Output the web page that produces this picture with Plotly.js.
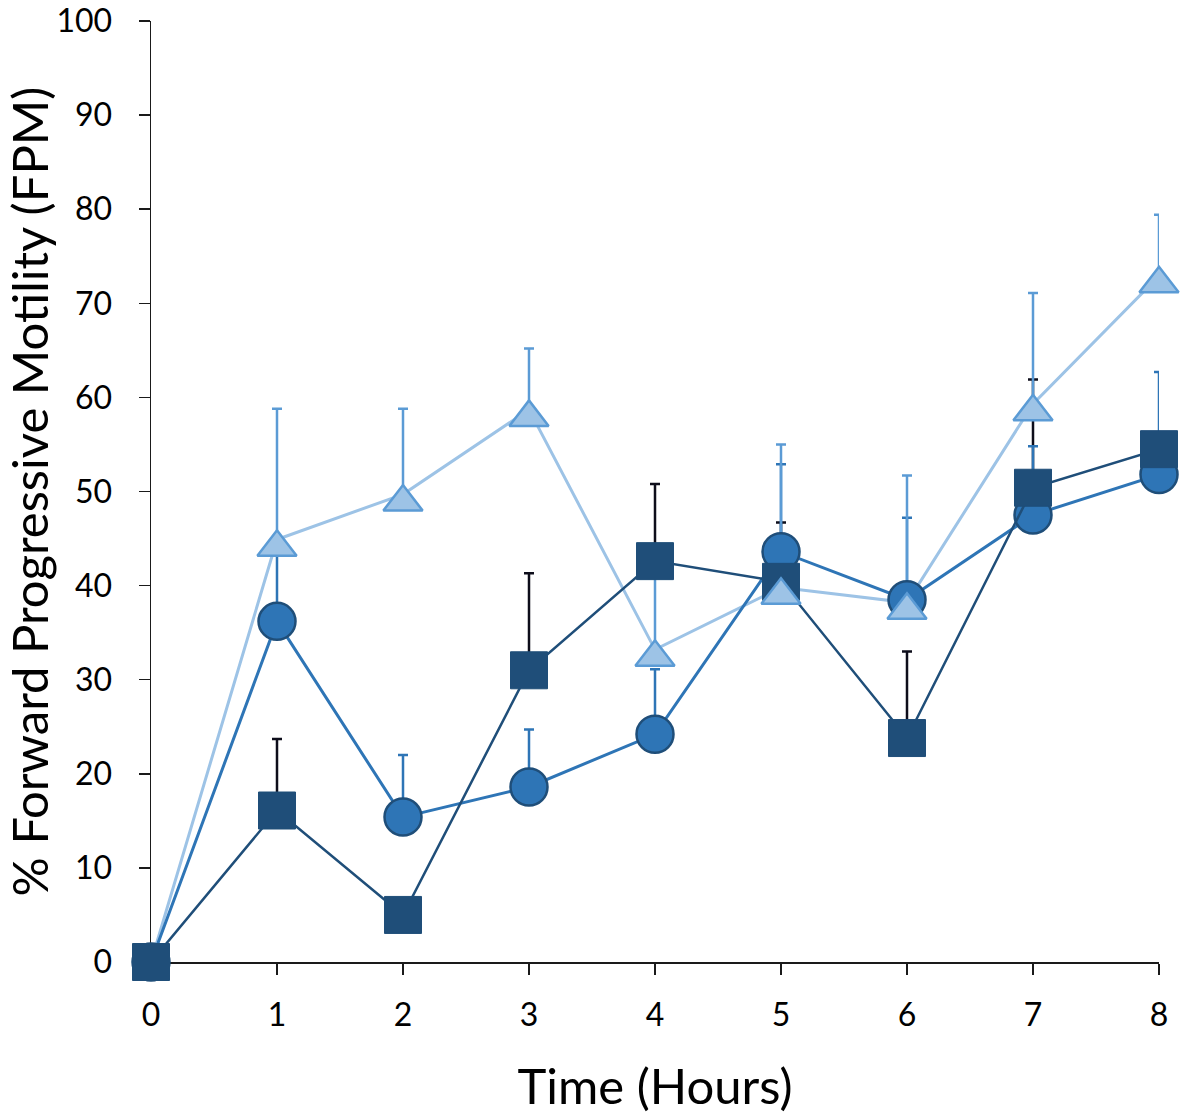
<!DOCTYPE html>
<html>
<head>
<meta charset="utf-8">
<script src="https://cdn.plot.ly/plotly-3.0.1.min.js"></script>
<style>html,body{margin:0;padding:0;background:#fff;}#chart{width:1181px;height:1117px;}</style>
</head>
<body>
<div id="chart"></div>
<script>
const hours = [0, 1, 2, 3, 4, 5, 6, 7, 8];
const triValues = [0, 44.9, 49.7, 58.7, 33.2, 39.8, 38.2, 59.3, 72.9];
const triErr = [null, 13.9, 9.1, 6.5, 9.3, 15.2, 13.5, 11.8, 6.5];
const circValues = [0, 36.2, 15.4, 18.6, 24.2, 43.6, 38.5, 47.5, 51.8];
const circErr = [null, 8.5, 6.6, 6.1, 6.9, 9.3, 8.7, 7.3, 10.9];
const sqValues = [0, 16.1, 5.0, 31.0, 42.6, 40.4, 23.8, 50.4, 54.5];
const sqErr = [null, 7.6, 1.5, 10.3, 8.2, 6.3, 9.2, 11.5, 1.5];
const zeros = hours.map(() => 0);
const yTicks = [0, 10, 20, 30, 40, 50, 60, 70, 80, 90, 100];

const font = 'Lato, "Open Sans", sans-serif';
const marginTop = 21, marginBottom = 155;
const triSize = 34;
// Plotly's triangle-up sits above its anchor; a hidden twin axis centres it on the point like the original
const triShift = 0.457 * (triSize / 2) / ((1117 - marginTop - marginBottom) / 100);

function errObj(arr, color) {
  return {type: 'data', symmetric: false, array: arr, arrayminus: zeros,
          color: color, thickness: 2.5, width: 5, visible: true};
}
const hidden = {size: 1, color: 'rgba(0,0,0,0)'};

const traces = [
  { x: hours, y: sqValues, mode: 'markers', showlegend: false, hoverinfo: 'skip',
    marker: hidden, error_y: errObj(sqErr, '#0d0d1a'), cliponaxis: false },
  { x: hours, y: circValues, mode: 'markers', showlegend: false, hoverinfo: 'skip',
    marker: hidden, error_y: errObj(circErr, '#2E75B6'), cliponaxis: false },
  { x: hours, y: triValues, mode: 'lines', name: 'Triangle',
    line: {color: '#9DC3E6', width: 3},
    error_y: errObj(triErr, '#5B9BD5'), cliponaxis: false },
  { x: hours, y: triValues, yaxis: 'y2', mode: 'markers', showlegend: false,
    marker: {symbol: 'triangle-up', size: triSize, color: '#9DC3E6', line: {color: '#5B9BD5', width: 2.5}},
    cliponaxis: false },
  { x: hours, y: circValues, mode: 'lines+markers', name: 'Circle',
    line: {color: '#2E75B6', width: 3},
    marker: {symbol: 'circle', size: 37, color: '#2E75B6', line: {color: '#1F4E79', width: 2.5}},
    cliponaxis: false },
  { x: hours, y: sqValues, mode: 'lines+markers', name: 'Square',
    line: {color: '#1F4E79', width: 2.5},
    marker: {symbol: 'square', size: 37, color: '#1F4E79', line: {color: '#1F4E79', width: 1}},
    cliponaxis: false }
];

const layout = {
  width: 1181, height: 1117,
  margin: {l: 151, r: 22, t: marginTop, b: marginBottom},
  paper_bgcolor: '#fff', plot_bgcolor: '#fff',
  showlegend: false,
  font: {family: font, color: '#000'},
  xaxis: {
    range: [0, 8], tickvals: hours, ticktext: hours.map(String),
    showgrid: false, zeroline: false, showline: true, linecolor: '#1a1a1a', linewidth: 1.5,
    ticks: 'outside', ticklen: 11, tickwidth: 1.5, tickcolor: '#1a1a1a', layer: 'below traces',
    tickfont: {family: font, size: 32, color: '#000'}, ticklabelstandoff: 13,
    title: {text: 'Time (Hours)', font: {family: font, size: 49, color: '#000'}, standoff: 38},
    automargin: false
  },
  yaxis: {
    range: [0, 100], tickvals: yTicks, ticktext: yTicks.map(String),
    showgrid: false, zeroline: false, showline: true, linecolor: '#1a1a1a', linewidth: 1.5,
    ticks: 'outside', ticklen: 11, tickwidth: 1.5, tickcolor: '#1a1a1a', layer: 'below traces',
    tickfont: {family: font, size: 32, color: '#000'}, ticklabelstandoff: 20,
    ticklabeloverflow: 'allow',
    title: {text: '% Forward Progressive Motility (FPM)', font: {family: font, size: 49, color: '#000'}, standoff: 9},
    automargin: false
  },
  yaxis2: {
    overlaying: 'y', range: [triShift, 100 + triShift], visible: false,
    showgrid: false, zeroline: false, fixedrange: true
  }
};

Plotly.newPlot('chart', traces, layout, {displayModeBar: false, staticPlot: true});
</script>
</body>
</html>
